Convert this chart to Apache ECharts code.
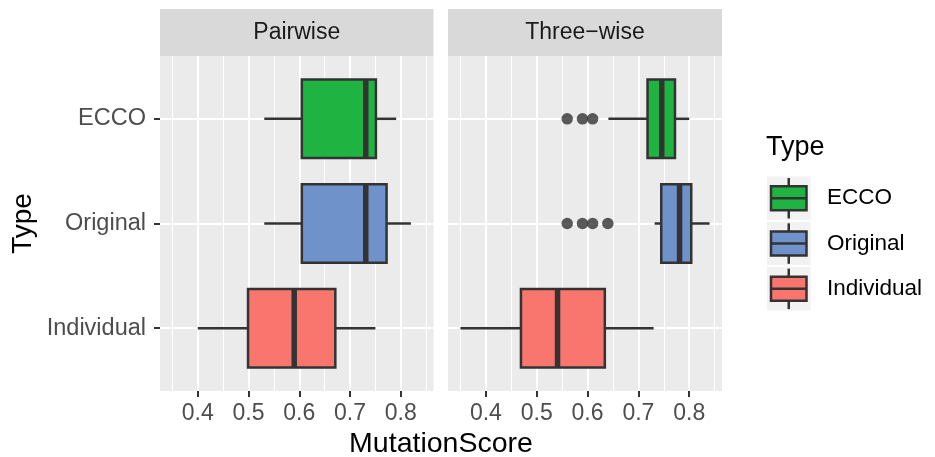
<!DOCTYPE html>
<html>
<head>
<meta charset="utf-8">
<script src="https://cdn.jsdelivr.net/npm/echarts@6/dist/echarts.min.js"></script>
<style>html,body{margin:0;padding:0;background:#fff}#c{width:935px;height:457px}</style>
</head>
<body>
<div id="c"></div>
<script>
// ---------- data ----------
const categories = ['ECCO', 'Original', 'Individual'];
const panels = ['Pairwise', 'Three\u2212wise'];
const xTicks = [0.4, 0.5, 0.6, 0.7, 0.8];
const xMinorTicks = [0.35, 0.45, 0.55, 0.65, 0.75, 0.85];
// [lowerWhisker, Q1, median, Q3, upperWhisker] per category
const pairwiseStats = [
  [0.531, 0.605, 0.731, 0.751, 0.791],
  [0.531, 0.605, 0.731, 0.772, 0.820],
  [0.400, 0.499, 0.590, 0.671, 0.750]
];
const threewiseStats = [
  [0.641, 0.718, 0.746, 0.772, 0.800],
  [0.732, 0.745, 0.781, 0.804, 0.840],
  [0.350, 0.469, 0.541, 0.634, 0.730]
];
const pairwiseOutliers = [[], [], []];
const threewiseOutliers = [
  [0.56, 0.59, 0.61],
  [0.56, 0.59, 0.61, 0.64],
  []
];
const fillColors = ['#1FB441', '#6F92CA', '#F8766D'];

// ---------- layout ----------
const FONT = 'Liberation Sans, Arial, Helvetica, sans-serif';
const gridTop = 56, gridBottom = 66;
const grids = [{left: 160, right: 935 - 433.5}, {left: 448, right: 935 - 722}];
const allVals = pairwiseStats.flat().concat(threewiseStats.flat(), pairwiseOutliers.flat(), threewiseOutliers.flat());
const dLo = Math.min(...allVals), dHi = Math.max(...allVals);
const pad = (dHi - dLo) * 0.05;
const xMin = dLo - pad, xMax = dHi + pad;

const statsByPanel = [pairwiseStats, threewiseStats];
const outByPanel = [pairwiseOutliers, threewiseOutliers];

function renderBox(params, api) {
  const yv = api.value(0);
  const lo = api.value(1), q1 = api.value(2), med = api.value(3), q3 = api.value(4), hi = api.value(5);
  const ci = api.value(6);
  const half = api.size([0, 0.375])[1];
  const pLo = api.coord([lo, yv]), pQ1 = api.coord([q1, yv]), pMed = api.coord([med, yv]);
  const pQ3 = api.coord([q3, yv]), pHi = api.coord([hi, yv]);
  const line = {stroke: '#333333', lineWidth: 2.5};
  return {
    type: 'group',
    children: [
      {type: 'line', shape: {x1: pLo[0], y1: pLo[1], x2: pQ1[0], y2: pQ1[1]}, style: line},
      {type: 'line', shape: {x1: pQ3[0], y1: pQ3[1], x2: pHi[0], y2: pHi[1]}, style: line},
      {type: 'rect', shape: {x: pQ1[0], y: pQ1[1] - half, width: pQ3[0] - pQ1[0], height: 2 * half},
        style: {fill: fillColors[ci], stroke: '#333333', lineWidth: 2.5}},
      {type: 'line', shape: {x1: pMed[0], y1: pMed[1] - half, x2: pMed[0], y2: pMed[1] + half},
        style: {stroke: '#333333', lineWidth: 5.5}}
    ]
  };
}

const option = {
  animation: false,
  grid: grids.map(g => ({left: g.left, right: g.right, top: gridTop, bottom: gridBottom,
    show: true, backgroundColor: '#EBEBEB', borderWidth: 0})),
  xAxis: [],
  yAxis: [],
  series: [],
  graphic: []
};

panels.forEach((p, k) => {
  // minor grid axis
  option.xAxis.push({
    type: 'value', gridIndex: k, min: xMin, max: xMax, position: 'top',
    axisLine: {show: false}, axisTick: {show: false, customValues: xMinorTicks},
    axisLabel: {show: false, customValues: xMinorTicks},
    splitLine: {show: true, lineStyle: {color: '#FFFFFF', width: 1}}
  });
  // major axis
  option.xAxis.push({
    type: 'value', gridIndex: k, min: xMin, max: xMax, position: 'bottom',
    axisLine: {show: false},
    axisTick: {show: true, length: 6, customValues: xTicks, lineStyle: {color: '#333333', width: 2}},
    axisLabel: {show: true, customValues: xTicks, margin: 11, color: '#4D4D4D', fontSize: 23, fontFamily: FONT,
      formatter: v => v.toFixed(1)},
    splitLine: {show: true, lineStyle: {color: '#FFFFFF', width: 2}}
  });
  const yCustom = categories.map((c, i) => i + 1);
  option.yAxis.push({
    type: 'value', gridIndex: k, min: 0.4, max: categories.length + 0.6, inverse: true,
    axisLine: {show: false},
    axisTick: {show: k === 0, length: 6, customValues: yCustom, lineStyle: {color: '#333333', width: 2}},
    axisLabel: {show: k === 0, customValues: yCustom, margin: 14, color: '#4D4D4D', fontSize: 23.5, fontFamily: FONT,
      formatter: v => categories[Math.round(v) - 1] || ''},
    splitLine: {show: true, lineStyle: {color: '#FFFFFF', width: 2}}
  });
  const boxData = statsByPanel[k].map((s, i) => [i + 1].concat(s, [i]));
  option.series.push({
    type: 'custom', xAxisIndex: 2 * k + 1, yAxisIndex: k, renderItem: renderBox,
    encode: {x: [1, 2, 3, 4, 5], y: 0}, data: boxData, z: 3
  });
  const outData = [];
  outByPanel[k].forEach((arr, i) => arr.forEach(v => outData.push([v, i + 1])));
  option.series.push({
    type: 'scatter', xAxisIndex: 2 * k + 1, yAxisIndex: k, data: outData, symbol: 'circle',
    symbolSize: 11.5, itemStyle: {color: '#333333'}, z: 4
  });
  // strip
  const g = grids[k];
  const w = 935 - g.right - g.left;
  option.graphic.push({type: 'rect', left: g.left, top: 9, shape: {width: w, height: gridTop - 9},
    style: {fill: '#D9D9D9'}});
  option.graphic.push({type: 'text', x: g.left + w / 2, y: 32.5,
    style: {text: p, fill: '#1A1A1A', font: '23px ' + FONT, textAlign: 'center', textVerticalAlign: 'middle'}});
});

// axis titles
option.graphic.push({type: 'text', x: (grids[0].left + 935 - grids[1].right) / 2, y: 444,
  style: {text: 'MutationScore', fill: '#000000', font: '28.5px ' + FONT, textAlign: 'center', textVerticalAlign: 'middle'}});
option.graphic.push({type: 'text', x: 23, y: gridTop + (457 - gridTop - gridBottom) / 2, rotation: Math.PI / 2,
  style: {text: 'Type', fill: '#000000', font: '28px ' + FONT, textAlign: 'center', textVerticalAlign: 'middle'}});

// legend
option.graphic.push({type: 'text', x: 766, y: 148,
  style: {text: 'Type', fill: '#000000', font: '27px ' + FONT, textAlign: 'left', textVerticalAlign: 'middle'}});
categories.forEach((c, i) => {
  const kx = 767, ky = 176.5 + i * 45.3, ks = 43.5;
  const cx = kx + ks / 2, cy = ky + ks / 2;
  option.graphic.push({type: 'rect', left: kx, top: ky, shape: {width: ks, height: ks}, style: {fill: '#F2F2F2'}});
  option.graphic.push({type: 'line', shape: {x1: cx, y1: ky + 1.5, x2: cx, y2: ky + ks - 1.5},
    style: {stroke: '#333333', lineWidth: 2.5}});
  option.graphic.push({type: 'rect', shape: {x: kx + 4, y: cy - 12, width: ks - 8, height: 24},
    style: {fill: fillColors[i], stroke: '#333333', lineWidth: 2.5}});
  option.graphic.push({type: 'line', shape: {x1: kx + 4, y1: cy, x2: kx + ks - 4, y2: cy},
    style: {stroke: '#333333', lineWidth: 2.5}});
  option.graphic.push({type: 'text', x: 827, y: cy,
    style: {text: c, fill: '#000000', font: '22.5px ' + FONT, textAlign: 'left', textVerticalAlign: 'middle'}});
});

const chart = echarts.init(document.getElementById('c'), null, {renderer: 'canvas'});
chart.setOption(option);
</script>
</body>
</html>
